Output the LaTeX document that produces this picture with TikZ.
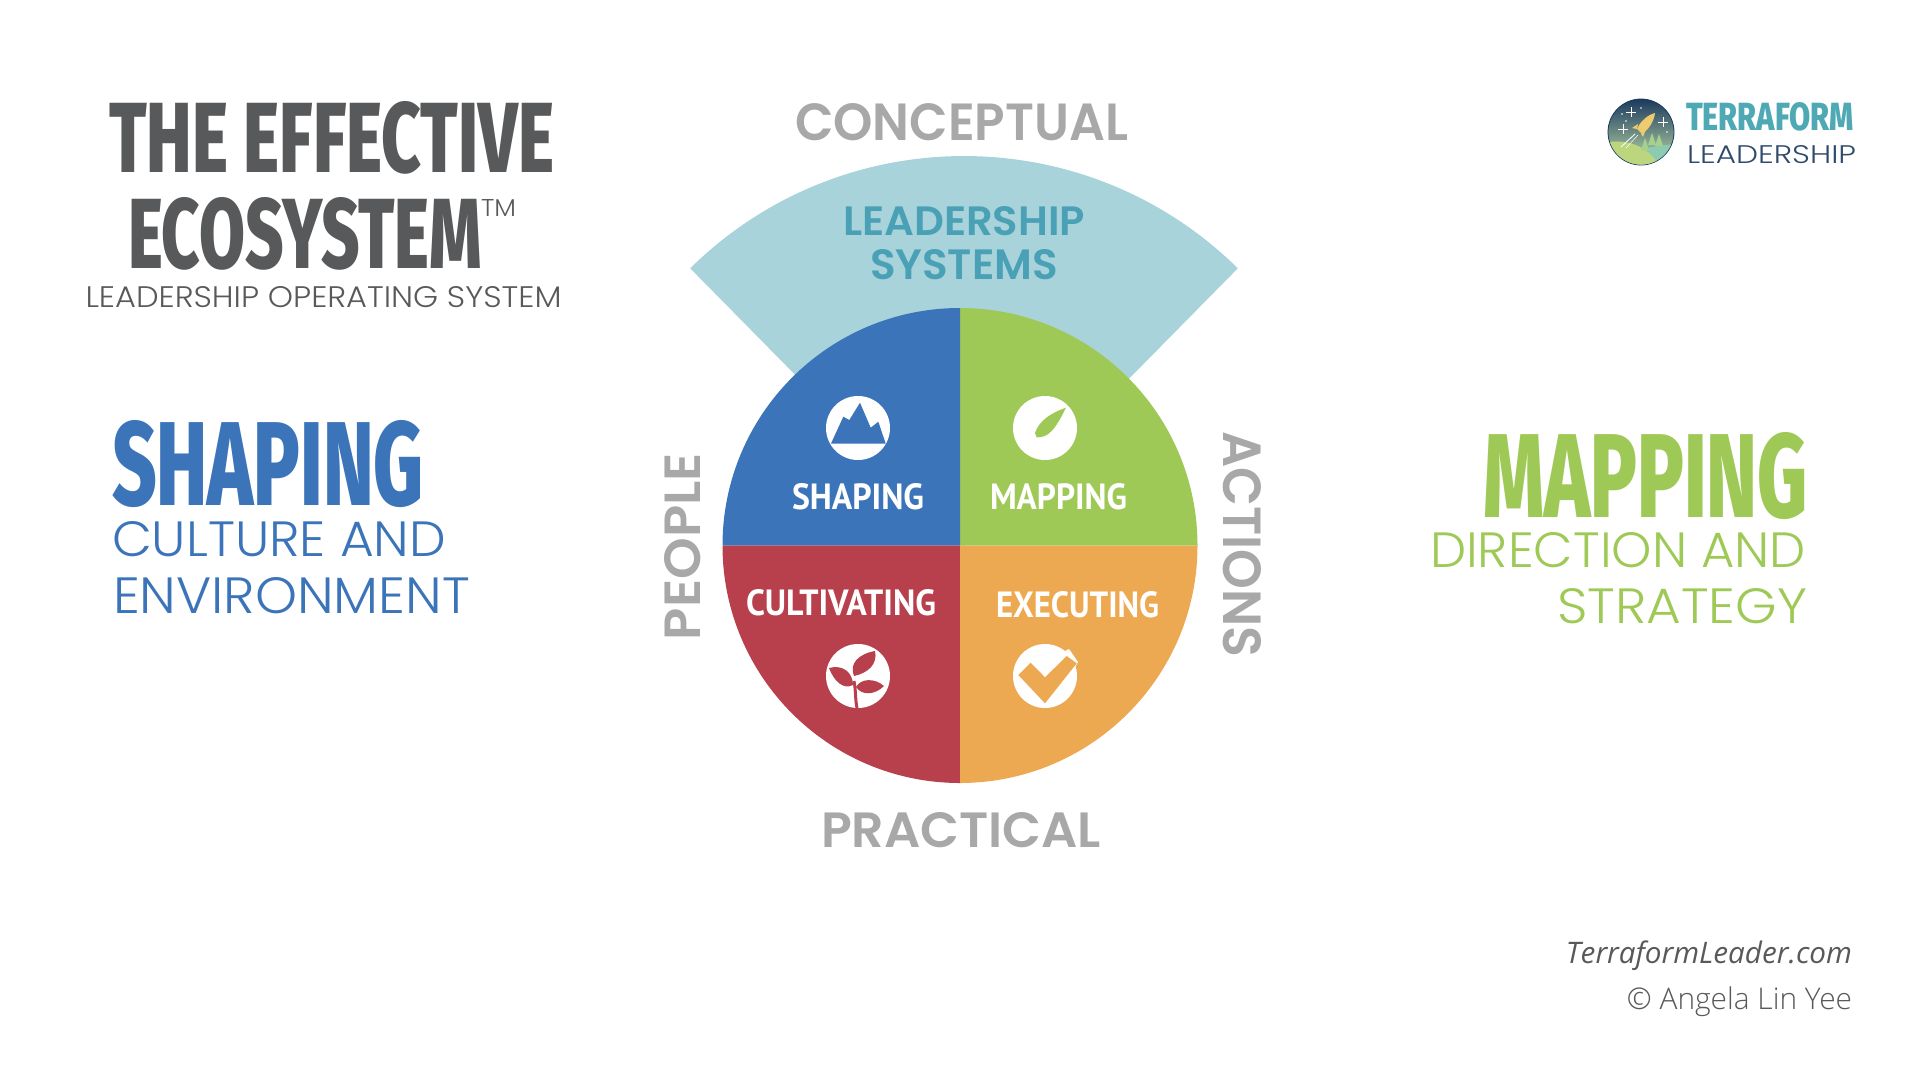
\documentclass[tikz,border=0pt]{standalone}
\usepackage{graphicx}
\usepackage{fontspec}
\setmainfont{Open Sans}
\newfontfamily\bebasfont{Fira Sans}[UprightFont=* ExtraBold]
\newfontfamily\thinfont{Poppins}[UprightFont=* Light]
\newfontfamily\midfont{Poppins}[UprightFont=* SemiBold]
\newfontfamily\narrowfont{PT Sans}[UprightFont=* Bold]
\newfontfamily\footfont{Open Sans}[UprightFont=* Light]

\definecolor{titlegrey}{HTML}{58595B}
\definecolor{axisgrey}{HTML}{A8A8A8}
\definecolor{fanblue}{HTML}{A8D3DB}
\definecolor{fantext}{HTML}{4AA1B6}
\definecolor{shapeblue}{HTML}{3C74B9}
\definecolor{mapgreen}{HTML}{9FC957}
\definecolor{cultred}{HTML}{B8404D}
\definecolor{execorange}{HTML}{EDA951}
\definecolor{logoteal}{HTML}{4FA9B4}
\definecolor{logonavy}{HTML}{2F4A6B}
\definecolor{skytop}{HTML}{1C3A5E}
\definecolor{skymid}{HTML}{2E7F92}
\definecolor{skylow}{HTML}{BFDCA8}
\definecolor{hillfront}{HTML}{BBD67C}
\definecolor{hillback}{HTML}{8CCBB0}
\definecolor{treegreen}{HTML}{A5D08E}
\definecolor{rocketgold}{HTML}{EFCB6F}

\newcommand{\fitbox}[3]{\resizebox{#1pt}{#2pt}{#3}}

\begin{document}
\begin{tikzpicture}[
    x=1pt, y=-1pt,
    txt/.style={inner sep=0pt, outer sep=0pt, anchor=base west},
    inquad/.style={txt, text=white, font=\narrowfont},
    axislabel/.style={txt, text=axisgrey, font=\midfont},
    iconcircle/.style={circle, fill=white, inner sep=0pt, minimum size=64pt},
    stars/.style={white, line width=0.7pt}
]
\useasboundingbox (0,0) rectangle (1920,1080);

% Fan behind the circle
\coordinate (F) at (964,546);
\fill[fanblue] (F) -- ++(45.4:390pt) arc[start angle=45.4, end angle=134.6, radius=390pt] -- cycle;

% Four quadrants
\coordinate (C) at (960,545.5);
\foreach \col/\ang in {mapgreen/0, shapeblue/90, cultred/180, execorange/270}
  \fill[\col] (C) -- ++(\ang:237.5pt) arc[start angle=\ang, delta angle=90, radius=237.5pt] -- cycle;

% Title
\node[txt, text=titlegrey, font=\bebasfont] (title1) at (109,172) {\fitbox{445}{71}{THE EFFECTIVE}};
\node[txt, text=titlegrey, font=\bebasfont] (title2) at (128,268) {\fitbox{354}{71}{ECOSYSTEM}};
\node[txt, text=titlegrey, font=\thinfont] (tm) at (481,216) {\fitbox{35}{17}{TM}};
\node[txt, text=titlegrey, font=\thinfont] (subtitle) at (85.5,307) {\fitbox{476}{21}{LEADERSHIP OPERATING SYSTEM}};

% Left block
\node[txt, text=shapeblue, font=\bebasfont] (shapingbig) at (112,505) {\fitbox{312}{85}{SHAPING}};
\node[txt, text=shapeblue, font=\thinfont] (culture) at (112,556) {\fitbox{334}{35}{CULTURE AND}};
\node[txt, text=shapeblue, font=\thinfont] (environment) at (113,613) {\fitbox{357}{36}{ENVIRONMENT}};

% Right block
\node[txt, text=mapgreen, font=\bebasfont] (mappingbig) at (1483,517) {\fitbox{325}{85}{MAPPING}};
\node[txt, text=mapgreen, font=\thinfont] (direction) at (1430,567) {\fitbox{376}{35}{DIRECTION AND}};
\node[txt, text=mapgreen, font=\thinfont] (strategy) at (1557,623) {\fitbox{250}{35}{STRATEGY}};

% Axis labels
\node[axislabel] (conceptual) at (795,140) {\fitbox{333}{37}{CONCEPTUAL}};
\node[axislabel] (practical) at (821,847) {\fitbox{280}{35}{PRACTICAL}};
\node[axislabel, rotate=90] (people) at (700,640) {\fitbox{187}{36}{PEOPLE}};
\node[axislabel, rotate=-90] (actions) at (1223,431) {\fitbox{226}{38}{ACTIONS}};

% Fan text
\node[txt, text=fantext, font=\midfont] (fan1) at (843,235) {\fitbox{242}{29}{LEADERSHIP}};
\node[txt, text=fantext, font=\midfont] (fan2) at (870,279) {\fitbox{188}{30}{SYSTEMS}};

% Quadrant labels
\node[inquad] (shaping) at (792,509) {\fitbox{132}{26}{SHAPING}};
\node[inquad] (mapping) at (990,509) {\fitbox{137}{26}{MAPPING}};
\node[inquad] (cultivating) at (746,615) {\fitbox{190}{26}{CULTIVATING}};
\node[inquad] (executing) at (996,617) {\fitbox{163}{26}{EXECUTING}};

% Icons
\node[iconcircle] (shapingicon) at (858,428) {};
\node[iconcircle] (mappingicon) at (1045,428) {};
\node[iconcircle] (cultivatingicon) at (858,676) {};
\node[iconcircle] (executingicon) at (1045,676) {};

% Mountain
\begin{scope}[shift={(858,428)}]
  \fill[shapeblue] (-27,15.5) -- (-14.7,-11.3) -- (-8.7,-8) -- (2,-25.3) -- (12.7,-0.3) -- (20.3,-6.3) -- (27.7,15.5) -- cycle;
\end{scope}

% Needle
\begin{scope}[shift={(1045,428)}]
  \fill[mapgreen] (21,-20.3) .. controls (8,-16) and (-6,-8) .. (-10,5) -- (-8.3,9.3) .. controls (3,10) and (10,2) .. cycle;
\end{scope}

% Plant
\begin{scope}[shift={(858,676)}]
  \draw[cultred, line width=3pt] (-1,32) .. controls (-3,22) and (-2,15) .. (-4,5);
  \fill[cultred] (-29,-8) .. controls (-15,-12) and (-5,-3) .. (-5,9) .. controls (-15,14) and (-24,5) .. cycle;
  \fill[cultred] (-4,0) .. controls (-9,-12) and (0,-22) .. (17,-25) .. controls (20,-12) and (10,-3) .. cycle;
  \fill[cultred] (-2,11) .. controls (3,2) and (17,2) .. (26,10) .. controls (17,19) and (4,20) .. cycle;
\end{scope}

% Check mark
\begin{scope}[shift={(1045,676)}]
  \fill[white] (20,-25) -- (24,-27) -- (33,-14) -- (30,-9) -- cycle;
  \fill[execorange] (-26.7,-1) -- (-14.3,-13.3) -- (0,1.3) -- (21.7,-20) -- (31.7,-12.7) -- (0,27.3) -- cycle;
\end{scope}

% Logo
\node[circle, inner sep=0pt, minimum size=66pt, draw=skytop, line width=0.8pt, top color=skytop, middle color=skymid, bottom color=skylow] (logo) at (1641,132) {};
\begin{scope}[shift={(1641,132)}]
  \clip (0,0) circle[radius=32.5pt];
  \fill[hillback] (-5,20) .. controls (8,14) and (20,14) .. (33,12) -- (33,33) -- (-5,33) -- cycle;
  \fill[hillfront] (-33,10) .. controls (-15,8) and (5,12) .. (18,33) -- (-33,33) -- cycle;
  \foreach \tx/\ty in {4/12, 11/7, 18/8}
    \fill[treegreen] (\tx-4,\ty+6) -- (\tx,\ty-6) -- (\tx+4,\ty+6) -- cycle;
  \draw[white, line width=0.8pt] (-6,2) -- (-20,15);
  \draw[white, line width=0.5pt] (-3,3) -- (-15,16);
  \fill[rocketgold] (14,-19) .. controls (6,-17) and (-1,-10) .. (-4,-3) -- (1,2) .. controls (7,-2) and (13,-10) .. cycle;
  \fill[rocketgold] (-3,-8) -- (-9,-4) -- (-4,-3) -- cycle;
  \fill[rocketgold] (5,-3) -- (2,5) -- (0,2) -- cycle;
  \foreach \sx/\sy in {-10/-20, 22/-10, -18/-3}
    \draw[stars] (\sx-5,\sy) -- (\sx+5,\sy) (\sx,\sy-5) -- (\sx,\sy+5);
  \foreach \dx/\dy in {-19/-18, 0/-24, -15/-11, 26/0}
    \fill[white] (\dx,\dy) circle[radius=0.9pt];
\end{scope}
\node[txt, text=logoteal, font=\bebasfont] (terraform) at (1686,130) {\fitbox{168}{28}{TERRAFORM}};
\node[txt, text=logonavy, font=\thinfont] (logosub) at (1687,163) {\fitbox{169}{18}{LEADERSHIP}};

% Footer
\node[txt, anchor=base east, text=titlegrey, font=\itshape] (website) at (1852,963) {\resizebox{286pt}{!}{TerraformLeader.com}};
\node[txt, anchor=base east, text=titlegrey, font=\footfont] (credit) at (1852,1009) {\resizebox{225pt}{!}{© Angela Lin Yee}};

\end{tikzpicture}
\end{document}
